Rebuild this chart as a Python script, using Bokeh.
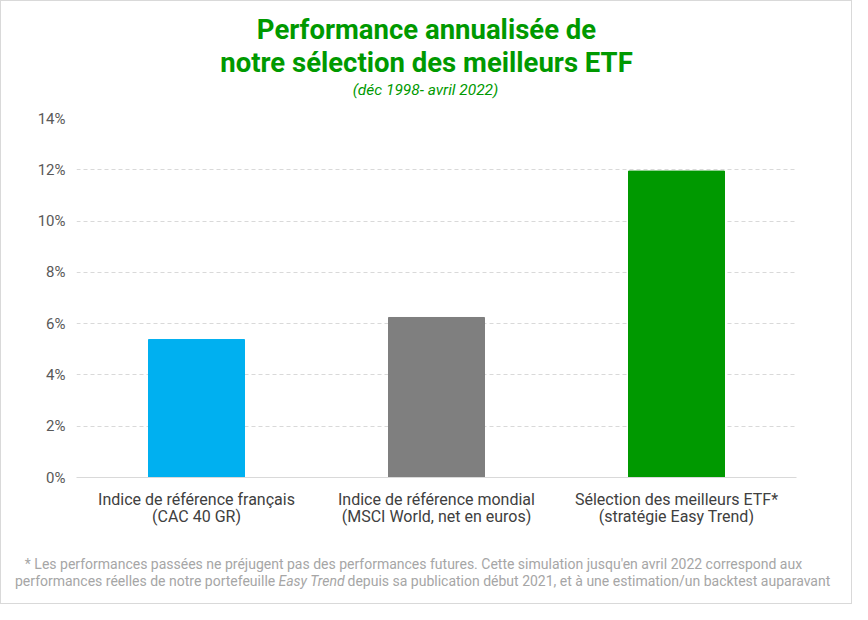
from bokeh.plotting import figure
from bokeh.layouts import column
from bokeh.models import Range1d, FixedTicker, ColumnDataSource
from bokeh.core.properties import value
from bokeh.embed import file_html
from bokeh.resources import INLINE

# ---- data ----
categories = [
    "Indice de référence français\n(CAC 40 GR)",
    "Indice de référence mondial\n(MSCI World, net en euros)",
    "Sélection des meilleurs ETF*\n(stratégie Easy Trend)",
]
values = [5.38, 6.24, 11.95]
colors = ["#00B0F0", "#7F7F7F", "#009900"]
y_ticks = [0, 2, 4, 6, 8, 10, 12, 14]
y_tick_labels = ["0%", "2%", "4%", "6%", "8%", "10%", "12%", "14%"]
title_lines = ["Performance annualisée de", "notre sélection des meilleurs ETF"]
subtitle = "(déc 1998- avril 2022)"
foot_line1 = "* Les performances passées ne préjugent pas des performances futures. Cette simulation jusqu'en avril 2022 correspond aux"
foot_line2 = ["performances réelles de notre portefeuille", "Easy Trend",
              "depuis sa publication début 2021, et à une estimation/un backtest auparavant"]

W = 850
OFF = 8            # reference pixel -> canvas pixel offset
TOP_H = 105        # title strip height
MAIN_H = 432       # chart height
FOOT_H = 65        # footnote strip height


def text_fig(h):
    f = figure(width=W, height=h, output_backend="svg", toolbar_location=None,
               x_range=Range1d(0, W), y_range=Range1d(h, 0),
               x_axis_type=None, y_axis_type=None, min_border=0,
               frame_align=False)
    f.outline_line_color = None
    f.xgrid.grid_line_color = None
    f.ygrid.grid_line_color = None
    f.border_fill_color = "white"
    return f


def txt(f, y0, x, y, text, size, color, style="normal", align="center"):
    f.text(x=[x - OFF], y=[y - OFF - y0], text=[text], text_align=align,
           text_baseline="middle", text_font=value("Roboto"), text_font_style=style,
           text_font_size=size, text_color=color)


green = "#009900"
grey = "#a6a6a6"

# ---- title strip ----
top = text_fig(TOP_H)
txt(top, 0, 433, 36, title_lines[0], "27.5px", green, "bold")
txt(top, 0, 433, 69, title_lines[1], "27.5px", green, "bold")
txt(top, 0, 432, 96, subtitle, "15.5px", green, "italic")

# ---- main chart ----
frame_top = 125 - OFF - TOP_H
frame_bottom = 484 - OFF - TOP_H
p = figure(width=W, height=MAIN_H, output_backend="svg", toolbar_location=None,
           x_range=Range1d(0, len(categories)), y_range=Range1d(0, 14),
           min_border_left=83 - OFF, min_border_right=W - (803 - OFF),
           min_border_top=frame_top, min_border_bottom=MAIN_H - frame_bottom,
           frame_align=False)
p.outline_line_color = None
p.border_fill_color = "white"

xs = [i + 0.5 for i in range(len(categories))]
src = ColumnDataSource(dict(x=xs, top=values, color=colors))
p.vbar(x="x", top="top", width=0.4, bottom=0, color="color", source=src)

p.xaxis.ticker = FixedTicker(ticks=xs)
p.xaxis.major_label_overrides = {x: c for x, c in zip(xs, categories)}
p.xaxis.major_tick_line_color = None
p.xaxis.minor_tick_line_color = None
p.xaxis.axis_line_color = "#d9d9d9"
p.xaxis.major_label_text_font = "Roboto"
p.xaxis.major_label_text_font_size = "16px"
p.xaxis.major_label_text_color = "#404040"
p.xaxis.major_label_text_line_height = 0.9
p.xaxis.major_label_standoff = 6

p.yaxis.ticker = FixedTicker(ticks=y_ticks)
p.yaxis.major_label_overrides = {t: l for t, l in zip(y_ticks, y_tick_labels)}
p.yaxis.major_tick_line_color = None
p.yaxis.minor_tick_line_color = None
p.yaxis.axis_line_color = None
p.yaxis.major_label_text_font = "Roboto"
p.yaxis.major_label_text_font_size = "15px"
p.yaxis.major_label_text_color = "#595959"
p.yaxis.major_label_standoff = 5

p.xgrid.grid_line_color = None
p.ygrid.ticker = FixedTicker(ticks=y_ticks[1:])
p.ygrid.grid_line_color = "#d9d9d9"
p.ygrid.grid_line_dash = "4 3"

# ---- footnote strip ----
foot = text_fig(FOOT_H)
y0 = TOP_H + MAIN_H
txt(foot, y0, 420, 570, foot_line1, "14px", grey)
txt(foot, y0, 21.5, 587, foot_line2[0], "14px", grey, align="left")
txt(foot, y0, 285, 587, foot_line2[1], "14px", grey, style="italic", align="left")
txt(foot, y0, 354, 587, foot_line2[2], "14px", grey, align="left")

layout = column(top, p, foot, spacing=0, styles={"border": "1px solid #d9d9d9"})

open("out.html", "w").write(file_html(layout, INLINE))
